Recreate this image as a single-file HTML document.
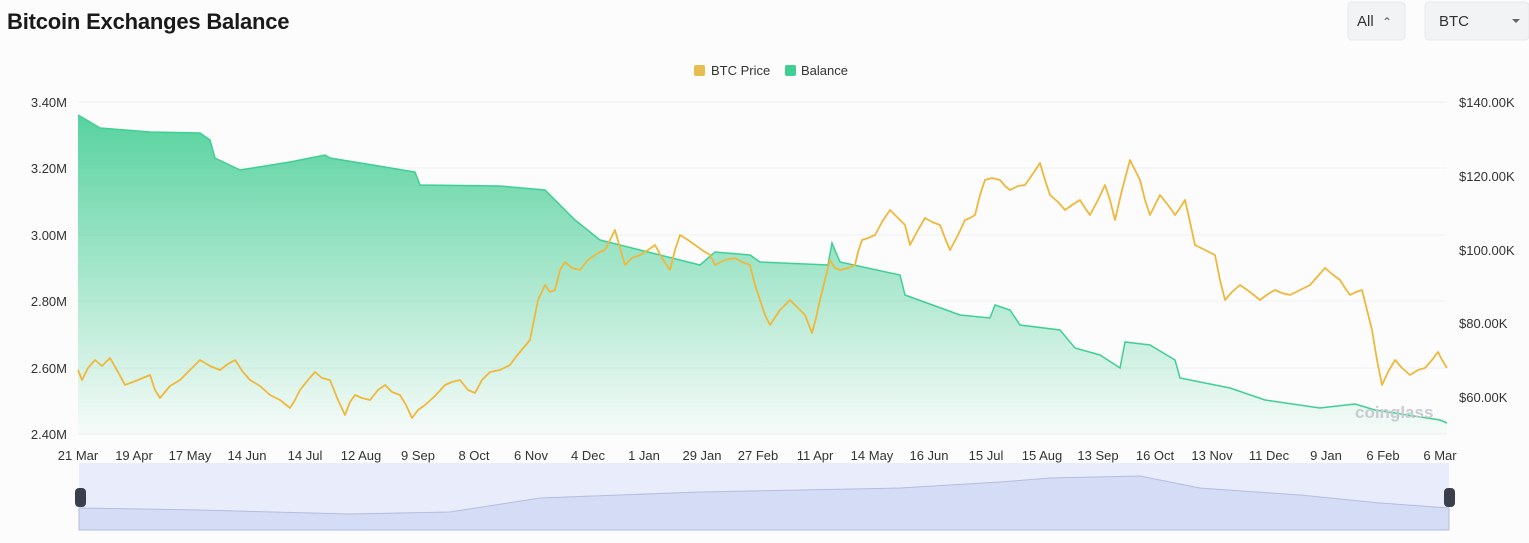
<!DOCTYPE html><html><head><meta charset="utf-8"><style>
body{margin:0;background:#fcfcfc;font-family:"Liberation Sans",sans-serif;}
</style></head><body>
<svg width="1529" height="543" xmlns="http://www.w3.org/2000/svg" style="display:block">
<defs>
<linearGradient id="g" x1="0" y1="0" x2="0" y2="1"><stop offset="0" stop-color="#4fd09a" stop-opacity="0.95"/><stop offset="1" stop-color="#4fd09a" stop-opacity="0.03"/></linearGradient>
</defs>
<rect width="1529" height="543" fill="#fcfcfc"/>
<text x="7" y="29" font-size="22" font-weight="bold" fill="#1a1a1a" letter-spacing="-0.2">Bitcoin Exchanges Balance</text>
<rect x="1348" y="2" width="57" height="38" rx="4" fill="#f1f3f5" stroke="#e6e8eb"/>
<text x="1357" y="26" font-size="15" fill="#333">All</text>
<text x="1382" y="26" font-size="12" fill="#555">⌃</text>
<rect x="1425" y="2" width="104" height="38" rx="4" fill="#f1f3f5" stroke="#e6e8eb"/>
<text x="1439" y="26" font-size="15" fill="#333">BTC</text>
<path d="M1512 19l4 4 4-4z" fill="#666"/>
<rect x="694" y="65" width="11" height="11" rx="2" fill="#e8bd50"/>
<text x="711" y="75" font-size="13" fill="#333">BTC Price</text>
<rect x="785" y="65" width="11" height="11" rx="2" fill="#3fcf95"/>
<text x="801" y="75" font-size="13" fill="#333">Balance</text>
<g stroke="#eef0f2" stroke-width="1">
<line x1="78" y1="102" x2="1447" y2="102"/><line x1="78" y1="168" x2="1447" y2="168"/><line x1="78" y1="235" x2="1447" y2="235"/><line x1="78" y1="301" x2="1447" y2="301"/><line x1="78" y1="368" x2="1447" y2="368"/><line x1="78" y1="434" x2="1447" y2="434"/>
</g>
<g font-size="13" fill="#333" text-anchor="end">
<text x="67" y="107">3.40M</text><text x="67" y="173">3.20M</text><text x="67" y="240">3.00M</text><text x="67" y="306">2.80M</text><text x="67" y="373">2.60M</text><text x="67" y="439">2.40M</text>
</g>
<g font-size="13" fill="#333" text-anchor="start">
<text x="1459" y="107">$140.00K</text><text x="1459" y="181">$120.00K</text><text x="1459" y="255">$100.00K</text><text x="1459" y="328">$80.00K</text><text x="1459" y="402">$60.00K</text>
</g>
<path fill="url(#g)" d="M78,434 L78,115 90,122 100,128 150,132 200,133 210,140 215,158 240,170 290,162 325,155 330,158 415,172 420,185 500,186 545,190 575,220 600,240 640,250 700,265 715,252 750,255 760,262 828,265 832,243 840,262 900,275 905,295 960,315 990,318 995,305 1010,310 1020,325 1060,330 1075,348 1100,355 1120,368 1125,342 1150,345 1175,360 1180,378 1230,388 1265,400 1320,408 1355,404 1375,410 1440,420 1447,423 L1447,434Z"/>
<polyline fill="none" stroke="#3fcf95" stroke-width="1.5" points="78,115 90,122 100,128 150,132 200,133 210,140 215,158 240,170 290,162 325,155 330,158 415,172 420,185 500,186 545,190 575,220 600,240 640,250 700,265 715,252 750,255 760,262 828,265 832,243 840,262 900,275 905,295 960,315 990,318 995,305 1010,310 1020,325 1060,330 1075,348 1100,355 1120,368 1125,342 1150,345 1175,360 1180,378 1230,388 1265,400 1320,408 1355,404 1375,410 1440,420 1447,423"/>
<polyline fill="none" stroke="#efb83c" stroke-width="1.8" stroke-linejoin="round" points="78,370 82,380 88,368 95,360 102,366 110,358 118,372 125,385 138,380 150,375 155,390 160,398 170,386 180,380 190,370 200,360 210,366 220,370 228,364 235,360 243,372 250,380 260,386 270,395 280,400 290,408 295,400 300,390 308,380 315,372 322,378 330,380 338,400 345,415 350,402 355,395 362,398 370,400 378,390 385,385 392,392 400,395 406,405 412,418 418,410 425,405 435,396 445,385 452,382 460,380 468,390 475,393 482,380 490,372 500,370 510,365 515,358 520,352 525,346 530,340 538,300 545,285 550,292 555,290 560,270 565,262 572,268 580,270 588,260 595,255 600,252 605,250 610,240 615,230 620,248 625,265 632,258 640,255 648,250 655,245 662,258 670,270 675,250 680,235 688,240 695,245 702,250 710,255 715,265 725,260 735,258 742,262 750,265 755,285 760,300 765,315 770,325 780,310 790,300 798,308 805,315 812,333 816,318 820,300 825,280 830,260 835,268 840,270 848,268 855,265 858,252 862,240 868,238 875,235 882,222 890,210 898,218 905,225 910,245 918,230 925,218 932,222 940,225 945,238 950,250 958,235 965,220 970,218 975,215 980,195 985,180 992,178 1000,180 1005,186 1010,190 1018,186 1025,185 1032,175 1040,163 1045,180 1050,195 1058,202 1065,210 1072,205 1080,200 1085,208 1090,215 1098,200 1105,185 1110,200 1115,220 1122,190 1130,160 1135,170 1140,180 1145,200 1150,215 1155,205 1160,195 1168,205 1175,215 1180,208 1185,200 1190,222 1195,245 1205,250 1215,255 1220,280 1225,300 1232,292 1240,285 1250,292 1260,300 1268,294 1275,290 1282,293 1290,295 1300,290 1310,285 1318,276 1325,268 1332,274 1340,280 1345,288 1350,295 1356,292 1362,290 1367,310 1372,330 1377,360 1382,385 1388,372 1395,360 1402,368 1410,375 1418,370 1425,368 1432,360 1438,352 1442,360 1447,368"/>
<text x="1355" y="418" font-size="17" fill="#c8ccd0" font-weight="bold">coinglass</text>
<g font-size="13" fill="#333" text-anchor="middle">
<text x="78" y="460">21 Mar</text><text x="134" y="460">19 Apr</text><text x="190" y="460">17 May</text><text x="247" y="460">14 Jun</text><text x="305" y="460">14 Jul</text><text x="361" y="460">12 Aug</text><text x="418" y="460">9 Sep</text><text x="474" y="460">8 Oct</text><text x="531" y="460">6 Nov</text><text x="588" y="460">4 Dec</text><text x="644" y="460">1 Jan</text><text x="702" y="460">29 Jan</text><text x="758" y="460">27 Feb</text><text x="815" y="460">11 Apr</text><text x="872" y="460">14 May</text><text x="929" y="460">16 Jun</text><text x="986" y="460">15 Jul</text><text x="1042" y="460">15 Aug</text><text x="1098" y="460">13 Sep</text><text x="1155" y="460">16 Oct</text><text x="1212" y="460">13 Nov</text><text x="1269" y="460">11 Dec</text><text x="1326" y="460">9 Jan</text><text x="1383" y="460">6 Feb</text><text x="1440" y="460">6 Mar</text>
</g>
<rect x="79" y="463" width="1370" height="67" fill="#e9ecfa"/>
<path fill="#d5dcf5" stroke="#b5bde0" stroke-width="1" d="M79,530 L79,508 200,510 350,514 450,512 540,498 700,492 900,488 1000,482 1050,478 1140,476 1200,488 1300,495 1380,503 1449,508 L1449,530Z"/>
<rect x="75" y="488" width="11" height="19" rx="4" fill="#3a3f4b"/>
<rect x="1444" y="488" width="11" height="19" rx="4" fill="#3a3f4b"/>
</svg>
</body></html>
